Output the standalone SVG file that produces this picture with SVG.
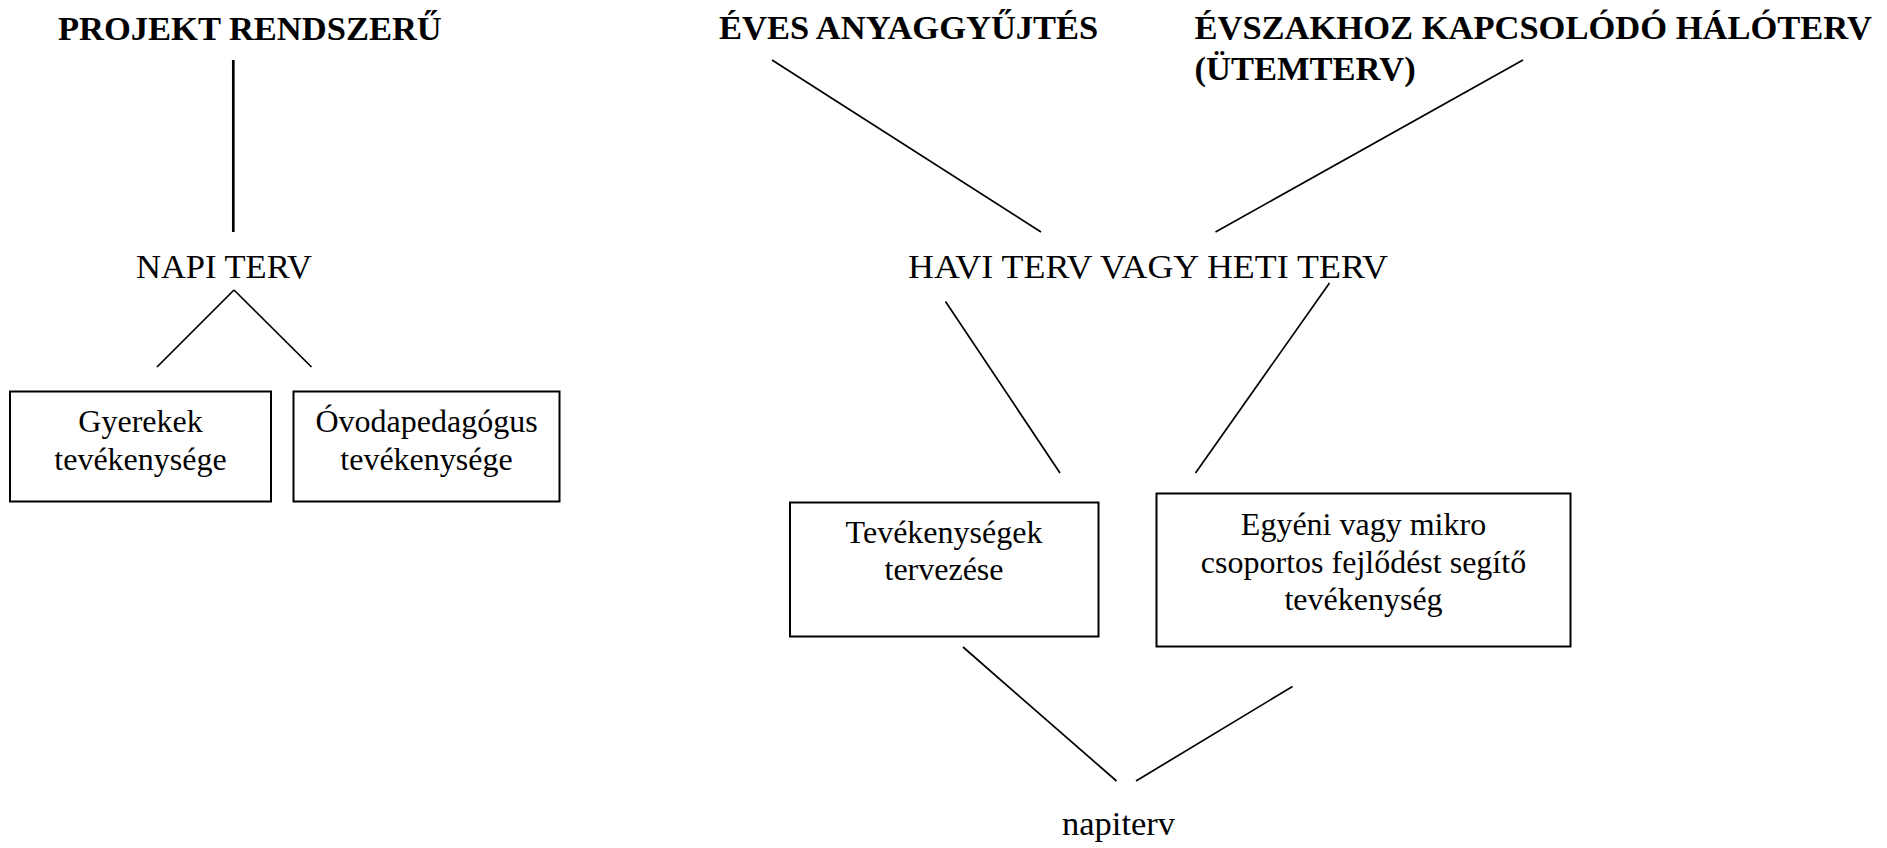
<svg xmlns="http://www.w3.org/2000/svg" width="1887" height="848" viewBox="0 0 1887 848">
<style>
.t{font-family:"Liberation Serif","Times New Roman",serif;fill:#000}
.h{font-size:34.5px;font-weight:bold}
.m{font-size:34.5px}
.b{font-size:32px;text-anchor:middle}
.box{fill:#fff;stroke:#000;stroke-width:2}
.ln{stroke:#000;stroke-width:1.7;fill:none}
</style>
<rect width="1887" height="848" fill="#fff"/>
<g id="connectors">
<line class="ln" x1="233.3" y1="60" x2="233.3" y2="232" style="stroke-width:2.7"/>
<line class="ln" x1="234" y1="290" x2="157" y2="367"/>
<line class="ln" x1="234" y1="290" x2="311.5" y2="367"/>
<line class="ln" x1="772" y1="60" x2="1041" y2="232"/>
<line class="ln" x1="1523" y1="60" x2="1215.5" y2="232"/>
<line class="ln" x1="945.5" y1="301.5" x2="1060" y2="473"/>
<line class="ln" x1="1329.5" y1="283" x2="1195.5" y2="473"/>
<line class="ln" x1="963" y1="647" x2="1116.5" y2="781"/>
<line class="ln" x1="1292.5" y1="686.5" x2="1136" y2="781"/>
</g>
<g id="projekt"><text class="t h" x="58" y="40">PROJEKT RENDSZERŰ</text></g>
<g id="napi-terv"><text class="t m" x="136" y="278">NAPI TERV</text></g>
<g id="eves"><text class="t h" x="719" y="39">ÉVES ANYAGGYŰJTÉS</text></g>
<g id="evszak"><text class="t h" x="1194.5" y="39">ÉVSZAKHOZ KAPCSOLÓDÓ HÁLÓTERV</text><text class="t h" x="1194.5" y="80">(ÜTEMTERV)</text></g>
<g id="havi"><text class="t m" x="908" y="278" textLength="480" lengthAdjust="spacingAndGlyphs">HAVI TERV VAGY HETI TERV</text></g>
<g id="gyerekek"><rect class="box" x="10" y="391.5" width="261" height="110"/><text class="t b" x="140.5" y="431.5">Gyerekek</text><text class="t b" x="140.5" y="470">tevékenysége</text></g>
<g id="ovoda"><rect class="box" x="293.5" y="391.5" width="266" height="110"/><text class="t b" x="426.5" y="431.5">Óvodapedagógus</text><text class="t b" x="426.5" y="470">tevékenysége</text></g>
<g id="tevekenysegek"><rect class="box" x="790" y="502.5" width="308.5" height="134"/><text class="t b" x="944" y="543">Tevékenységek</text><text class="t b" x="944" y="580">tervezése</text></g>
<g id="egyeni"><rect class="box" x="1156.5" y="493.5" width="414" height="153"/><text class="t b" x="1363.5" y="535">Egyéni vagy mikro</text><text class="t b" x="1363.5" y="573">csoportos fejlődést segítő</text><text class="t b" x="1363.5" y="610">tevékenység</text></g>
<g id="napiterv"><text class="t m" x="1062" y="835">napiterv</text></g>
</svg>
